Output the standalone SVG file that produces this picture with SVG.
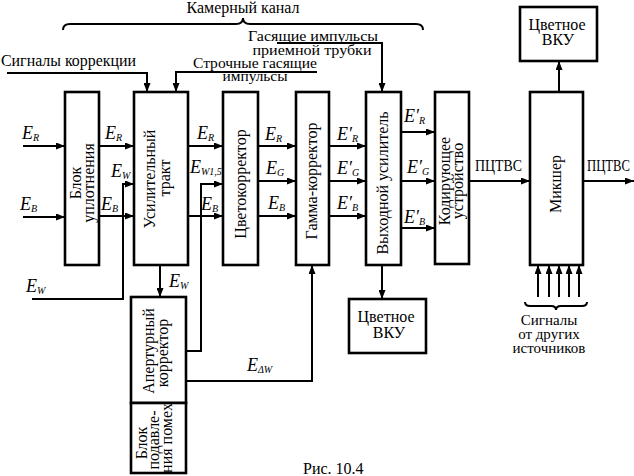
<svg xmlns="http://www.w3.org/2000/svg" width="634" height="476" viewBox="0 0 634 476" font-family="Liberation Serif, Times New Roman, DejaVu Serif, serif">
<defs>
<marker id="ar" markerUnits="userSpaceOnUse" markerWidth="9" markerHeight="7" refX="9" refY="3.5" orient="auto">
<path d="M0,0 L9,3.5 L0,7 z" fill="#000"/>
</marker>
<style>
.bx{fill:#fff;stroke:#000;stroke-width:2.6}
.ln{fill:none;stroke:#000;stroke-width:2;marker-end:url(#ar)}
.pl{fill:none;stroke:#000;stroke-width:2}
.t{font-size:16px;fill:#000}
.m{text-anchor:middle}
.e{font-size:18px;font-style:italic;fill:#000}
.s{font-size:10px}
.sm{font-size:15px}
</style>
</defs>
<rect width="634" height="476" fill="#fff"/>

<g id="camera-channel">
<path class="pl" d="M63,30 Q63,24 70,24 L236,24 Q243,24 243,18 Q243,24 250,24 L416,24 Q423,24 423,30"/>
<text class="t m" x="243" y="13" textLength="113" lengthAdjust="spacingAndGlyphs">Камерный канал</text>
</g>

<g id="corr-signals">
<text class="t" x="1" y="66" textLength="135" lengthAdjust="spacingAndGlyphs">Сигналы коррекции</text>
</g>
<g id="line-blank">
<text class="t sm m" x="255" y="68" textLength="124" lengthAdjust="spacingAndGlyphs">Строчные гасящие</text>
<text class="t sm m" x="255" y="81" textLength="65" lengthAdjust="spacingAndGlyphs">импульсы</text>
</g>
<g id="tube-blank">
<text class="t sm m" x="313" y="41" textLength="130" lengthAdjust="spacingAndGlyphs">Гасящие импульсы</text>
<text class="t sm m" x="312" y="55" textLength="119" lengthAdjust="spacingAndGlyphs">приемной трубки</text>
</g>

<g id="connectors">
<path class="ln" d="M23,146 H65"/>
<path class="ln" d="M23,217 H65"/>
<path class="ln" d="M99,146 H134"/>
<path class="ln" d="M99,216 H134"/>
<path class="ln" d="M32,299 H123 V184 H134"/>
<path class="ln" d="M188,146 H223"/>
<path class="ln" d="M188,216 H223"/>
<path class="ln" d="M186,351 H201 V184 H223"/>
<path class="ln" d="M258,146 H296"/>
<path class="ln" d="M258,181 H296"/>
<path class="ln" d="M258,216 H296"/>
<path class="ln" d="M329,146 H366"/>
<path class="ln" d="M329,181 H366"/>
<path class="ln" d="M329,216 H366"/>
<path class="ln" d="M401,132 H435"/>
<path class="ln" d="M401,181 H435"/>
<path class="ln" d="M401,228 H435"/>
<path class="ln" d="M469,181 H530"/>
<path class="ln" d="M583,181 H634"/>
<path class="ln" d="M160,265 V297"/>
<path class="ln" d="M186,381 H312 V265"/>
<path class="ln" d="M382,265 V299"/>
<path class="ln" d="M559,92 V61"/>
<path class="ln" d="M538,297 V265"/>
<path class="ln" d="M549,297 V265"/>
<path class="ln" d="M559,297 V265"/>
<path class="ln" d="M569,297 V265"/>
<path class="ln" d="M579,297 V265"/>
<path class="ln" d="M7,73 H147 V92"/>
<path class="ln" d="M317,72 H176 V92"/>
<path class="ln" d="M277,43 H382 V92"/>
</g>

<g id="signal-labels">
<text class="e" x="22" y="139">E<tspan class="s" dy="2">R</tspan></text>
<text class="e" x="20" y="210">E<tspan class="s" dy="2">B</tspan></text>
<text class="e" x="105" y="139">E<tspan class="s" dy="2">R</tspan></text>
<text class="e" x="111" y="177">E<tspan class="s" dy="2">W</tspan></text>
<text class="e" x="101" y="210">E<tspan class="s" dy="2">B</tspan></text>
<text class="e" x="26" y="292">E<tspan class="s" dy="2">W</tspan></text>
<text class="e" x="169" y="287">E<tspan class="s" dy="2">W</tspan></text>
<text class="e" x="197" y="139">E<tspan class="s" dy="2">R</tspan></text>
<text class="e" x="190" y="173">E<tspan class="s" dy="2">W1,5</tspan></text>
<text class="e" x="201" y="210">E<tspan class="s" dy="2">B</tspan></text>
<text class="e" x="265" y="140">E<tspan class="s" dy="2">R</tspan></text>
<text class="e" x="266" y="174">E<tspan class="s" dy="2">G</tspan></text>
<text class="e" x="268" y="209">E<tspan class="s" dy="2">B</tspan></text>
<text class="e" x="337" y="140">E′<tspan class="s" dy="2">R</tspan></text>
<text class="e" x="337" y="174">E′<tspan class="s" dy="2">G</tspan></text>
<text class="e" x="337" y="209">E′<tspan class="s" dy="2">B</tspan></text>
<text class="e" x="404" y="122">E′<tspan class="s" dy="2">R</tspan></text>
<text class="e" x="407" y="173">E′<tspan class="s" dy="2">G</tspan></text>
<text class="e" x="404" y="223">E′<tspan class="s" dy="2">B</tspan></text>
<text class="e" x="247" y="371">E<tspan class="s" dy="2">ΔW</tspan></text>
<text class="t" x="475" y="171" textLength="47" lengthAdjust="spacingAndGlyphs">ПЦТВС</text>
<text class="t" x="587" y="171" textLength="43" lengthAdjust="spacingAndGlyphs">ПЦТВС</text>
</g>

<g id="compressor">
<rect class="bx" x="65" y="92" width="34" height="173"/>
<text class="t m" transform="translate(81,183) rotate(-90)">Блок</text>
<text class="t m" transform="translate(94,183) rotate(-90)">уплотнения</text>
</g>
<g id="amp-path">
<rect class="bx" x="134" y="92" width="54" height="173"/>
<text class="t m" transform="translate(155,179) rotate(-90)">Усилительный</text>
<text class="t m" transform="translate(170,178) rotate(-90)">тракт</text>
</g>
<g id="color-corrector">
<rect class="bx" x="223" y="92" width="35" height="173"/>
<text class="t m" transform="translate(246,184) rotate(-90)">Цветокорректор</text>
</g>
<g id="gamma-corrector">
<rect class="bx" x="296" y="92" width="33" height="173"/>
<text class="t m" transform="translate(317,181) rotate(-90)">Гамма-корректор</text>
</g>
<g id="output-amp">
<rect class="bx" x="366" y="92" width="35" height="173"/>
<text class="t m" transform="translate(388,183) rotate(-90)">Выходной усилитель</text>
</g>
<g id="encoder">
<rect class="bx" x="435" y="92" width="34" height="172"/>
<text class="t m" transform="translate(450,181) rotate(-90)">Кодирующее</text>
<text class="t m" transform="translate(463,181) rotate(-90)">устройство</text>
</g>
<g id="mixer">
<rect class="bx" x="530" y="92" width="53" height="173"/>
<text class="t m" transform="translate(561,184) rotate(-90)">Микшер</text>
</g>
<g id="vku-top">
<rect class="bx" x="520" y="7" width="77" height="54"/>
<text class="t m" x="557" y="30">Цветное</text>
<text class="t m" x="558" y="45">ВКУ</text>
</g>
<g id="vku-bottom">
<rect class="bx" x="349" y="299" width="77" height="54"/>
<text class="t m" x="386" y="322">Цветное</text>
<text class="t m" x="389" y="338">ВКУ</text>
</g>
<g id="aperture-corrector">
<rect class="bx" x="131" y="297" width="55" height="106"/>
<text class="t m" transform="translate(154,351) rotate(-90)">Апертурный</text>
<text class="t m" transform="translate(168,353) rotate(-90)">корректор</text>
</g>
<g id="noise-suppressor">
<rect class="bx" x="131" y="403" width="55" height="70"/>
<text class="t m" transform="translate(147,443) rotate(-90)">Блок</text>
<text class="t m" transform="translate(159,440) rotate(-90)">подавле-</text>
<text class="t m" transform="translate(172,438) rotate(-90)">ния помех</text>
</g>

<g id="other-sources">
<path class="pl" d="M525,302 Q525,306 530,306 L551,306 Q556,306 556,310 Q556,306 561,306 L582,306 Q587,306 587,302"/>
<text class="t sm m" x="549" y="325">Сигналы</text>
<text class="t sm m" x="549" y="339">от других</text>
<text class="t sm m" x="549" y="353">источников</text>
</g>

<text class="t" x="303" y="474" font-size="17">Рис. 10.4</text>
</svg>
